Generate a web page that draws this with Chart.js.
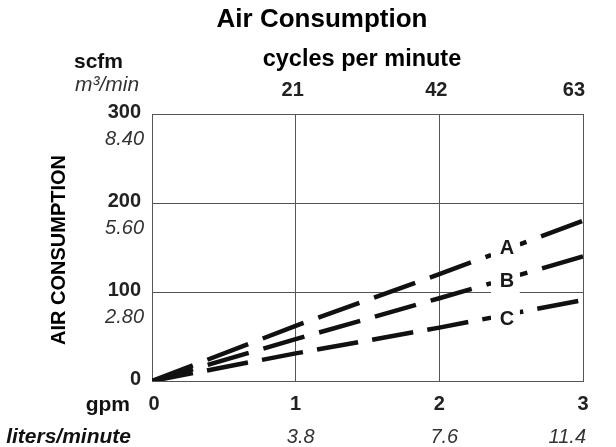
<!DOCTYPE html>
<html>
<head>
<meta charset="utf-8">
<script src="https://cdn.jsdelivr.net/npm/chart.js@4"></script>
<style>
  html, body { margin: 0; padding: 0; background: #fff; }
  #wrap { width: 616px; height: 447px; }
</style>
</head>
<body>
<div id="wrap"><canvas id="myChart" width="616" height="447"></canvas></div>
<script>
// values
const gpm = [0, 1, 2, 3];
const seriesA = [0, 62, 120, 180];
const seriesB = [0, 47, 93, 140];
const seriesC = [0, 31, 60, 91];
const seriesNames = ['A', 'B', 'C'];

// tick labels
const scfmTicks = [0, 100, 200, 300];
const m3Ticks = ['', '2.80', '5.60', '8.40'];
const gpmTicks = ['0', '1', '2', '3'];
const lpmTicks = ['', '3.8', '7.6', '11.4'];
const cpmTicks = ['', '21', '42', '63'];

const FONT = '"Liberation Sans", Arial, sans-serif';

const toPoints = (vals) => gpm.map((g, i) => ({ x: g, y: vals[i] }));

// value of a series at some gpm (straight line between read points)
const valueAt = (vals, g) => {
    for (let i = 1; i < gpm.length; i++) {
        if (g <= gpm[i]) {
            const t = (g - gpm[i - 1]) / (gpm[i] - gpm[i - 1]);
            return vals[i - 1] + t * (vals[i] - vals[i - 1]);
        }
    }
    return vals[vals.length - 1];
};

// texts around the plot + the A/B/C labels sitting in a break of each line
const textPlugin = {
    id: 'texts',
    afterDatasetsDraw(chart) {
        const ctx = chart.ctx;
        const xs = chart.scales.x;
        const ys = chart.scales.y;

        // label breaks
        const cut0 = 2.36, cut1 = 2.56, labAt = 2.47;
        const offs = [-2, 2, 4];
        [seriesA, seriesB, seriesC].forEach((vals, i) => {
            ctx.save();
            ctx.strokeStyle = '#fff';
            ctx.lineWidth = 9;
            ctx.beginPath();
            ctx.moveTo(xs.getPixelForValue(cut0), ys.getPixelForValue(valueAt(vals, cut0)));
            ctx.lineTo(xs.getPixelForValue(cut1), ys.getPixelForValue(valueAt(vals, cut1)));
            ctx.stroke();
            const lx = xs.getPixelForValue(labAt);
            const ly = ys.getPixelForValue(valueAt(vals, labAt)) + offs[i];
            ctx.fillStyle = '#fff';
            ctx.fillRect(xs.getPixelForValue(cut0), ly - 13, xs.getPixelForValue(cut1) - xs.getPixelForValue(cut0), 27);
            ctx.fillStyle = '#1a1a1a';
            ctx.font = 'bold 20px ' + FONT;
            ctx.textAlign = 'center';
            ctx.textBaseline = 'middle';
            ctx.fillText(seriesNames[i], lx, ly + 1);
            ctx.restore();
        });
    },
    afterDraw(chart) {
        const ctx = chart.ctx;
        const xs = chart.scales.x;
        const ys = chart.scales.y;
        const area = chart.chartArea;
        ctx.save();
        ctx.textBaseline = 'middle';

        // title
        ctx.fillStyle = '#000';
        ctx.textAlign = 'center';
        ctx.font = 'bold 26px ' + FONT;
        ctx.fillText('Air Consumption', 322, 20);
        ctx.font = 'bold 23.5px ' + FONT;
        ctx.fillText('cycles per minute', 362, 60);

        // top ticks (cycles per minute)
        ctx.fillStyle = '#222';
        ctx.font = 'bold 20px ' + FONT;
        cpmTicks.forEach((t, i) => {
            if (!t) return;
            let x = xs.getPixelForValue(gpm[i]) - 3;
            const w = ctx.measureText(t).width;
            x = Math.min(x, area.right + 2 - w / 2);
            ctx.fillText(t, x, 90);
        });

        // left units
        ctx.textAlign = 'left';
        ctx.fillStyle = '#111';
        ctx.font = 'bold 21px ' + FONT;
        ctx.fillText('scfm', 74, 62);
        ctx.fillStyle = '#333';
        ctx.font = 'italic 21px ' + FONT;
        ctx.fillText('m\u00B3/min', 75, 85);

        // y ticks
        ctx.textAlign = 'right';
        scfmTicks.forEach((v, i) => {
            const y = ys.getPixelForValue(v);
            ctx.fillStyle = '#222';
            ctx.font = 'bold 20px ' + FONT;
            ctx.fillText(String(v), 141, y - 2);
            if (m3Ticks[i]) {
                ctx.fillStyle = '#333';
                ctx.font = 'italic 20px ' + FONT;
                ctx.fillText(m3Ticks[i], 144, y + 25);
            }
        });

        // bottom ticks
        ctx.textAlign = 'center';
        gpmTicks.forEach((t, i) => {
            const x = xs.getPixelForValue(gpm[i]);
            ctx.fillStyle = '#222';
            ctx.font = 'bold 20px ' + FONT;
            ctx.fillText(t, x + (i === 0 ? 2 : 0), 404);
            if (lpmTicks[i]) {
                ctx.fillStyle = '#333';
                ctx.font = 'italic 20px ' + FONT;
                const w = ctx.measureText(lpmTicks[i]).width;
                ctx.fillText(lpmTicks[i], Math.min(x + 5, area.right + 3 - w / 2), 437);
            }
        });
        ctx.textAlign = 'right';
        ctx.fillStyle = '#111';
        ctx.font = 'bold 21px ' + FONT;
        ctx.fillText('gpm', 130, 405);
        ctx.font = 'italic bold 21px ' + FONT;
        ctx.fillText('liters/minute', 131, 437);

        // y axis title
        ctx.translate(59, 250);
        ctx.rotate(-Math.PI / 2);
        ctx.textAlign = 'center';
        ctx.font = 'bold 20px ' + FONT;
        ctx.fillStyle = '#000';
        ctx.fillText('AIR CONSUMPTION', 0, 0);
        ctx.restore();
    }
};

const lineStyle = (dash) => ({
    showLine: true,
    borderColor: '#111',
    borderWidth: 4.5,
    borderDash: dash,
    borderCapStyle: 'butt',
    pointRadius: 0,
    fill: false,
    tension: 0
});

const ctx = document.getElementById('myChart').getContext('2d');
const myChart = new Chart(ctx, {
    type: 'scatter',
    data: {
        datasets: [
            { label: 'A', data: toPoints(seriesA), ...lineStyle([43.7, 15.6]) },
            { label: 'B', data: toPoints(seriesB), ...lineStyle([42.7, 15.3]) },
            { label: 'C', data: toPoints(seriesC), ...lineStyle([41.7, 14.3]) }
        ]
    },
    options: {
        responsive: false,
        animation: false,
        layout: { padding: { left: 152, right: 33, top: 114, bottom: 66 } },
        plugins: { legend: { display: false }, tooltip: { enabled: false }, title: { display: false } },
        scales: {
            x: {
                type: 'linear', min: 0, max: 3,
                ticks: { display: false, stepSize: 1 },
                grid: { color: '#555', lineWidth: 1, drawTicks: false },
                border: { display: true, color: '#555', width: 1 }
            },
            y: {
                type: 'linear', min: 0, max: 300,
                ticks: { display: false, stepSize: 100 },
                grid: { color: '#555', lineWidth: 1, drawTicks: false },
                border: { display: true, color: '#555', width: 1 }
            },
            xTop: {
                type: 'linear', position: 'top', min: 0, max: 3,
                ticks: { display: false },
                grid: { display: false, drawTicks: false },
                border: { display: true, color: '#555', width: 1 }
            },
            yRight: {
                type: 'linear', position: 'right', min: 0, max: 300,
                ticks: { display: false },
                grid: { display: false, drawTicks: false },
                border: { display: true, color: '#555', width: 1 }
            }
        }
    },
    plugins: [textPlugin]
});
</script>
</body>
</html>
